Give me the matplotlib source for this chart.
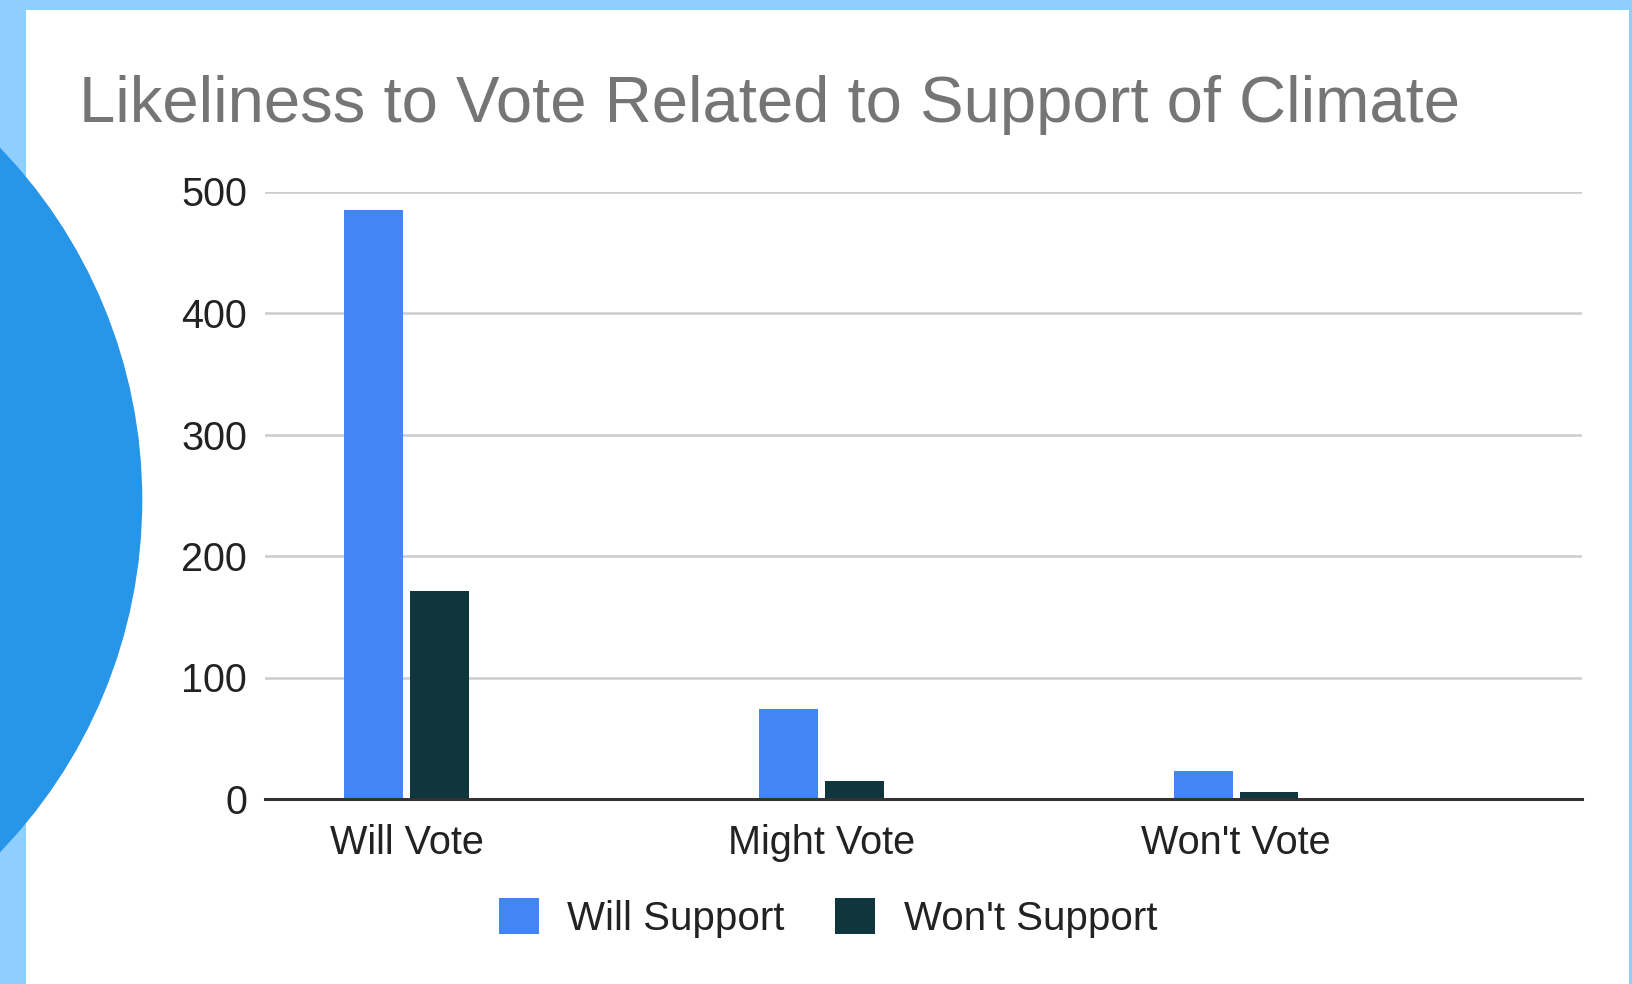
"""
Likeliness to vote vs. support of climate policy - grouped bar chart.
"""

import numpy as np
import matplotlib
matplotlib.use("Agg")
import matplotlib.pyplot as plt
from matplotlib.patches import Circle, Rectangle

# -----------------------------
# Data
# -----------------------------
categories = ["Will Vote", "Might Vote", "Won't Vote"]
will_support = [485, 74, 23]
wont_support = [171, 15, 6]
series_names = ["Will Support", "Won't Support"]
y_ticks = [0, 100, 200, 300, 400, 500]

title = "Likeliness to Vote Related to Support of Climate"

W, H, DPI = 1633, 984, 100
plt.rcParams["font.family"] = ["Liberation Sans", "DejaVu Sans"]

fig = plt.figure(figsize=(W / DPI, H / DPI), dpi=DPI)
fig.patch.set_facecolor("#8FCFFF")

# white card on top of the light-blue frame
fig.add_artist(Rectangle((26 / W, 0), (1629 - 26) / W, (H - 10) / H,
                         transform=fig.transFigure, facecolor="white",
                         edgecolor="none", zorder=0))

ax = fig.add_axes([265 / W, (H - 799) / H, 1317 / W, 607.5 / H])
ax.set_facecolor("none")

x = np.arange(len(categories))
bar_w = 0.142
offset = 0.0795
b1 = ax.bar(x - offset, will_support, width=bar_w, color="#4285F4",
            label=series_names[0], zorder=3)
b2 = ax.bar(x + offset, wont_support, width=bar_w, color="#0F353D",
            label=series_names[1], zorder=3)

ax.set_xlim(-0.341, 2.834)
ax.set_ylim(0, 500)
ax.set_yticks(y_ticks)
ax.set_xticks(x)
ax.set_xticklabels(categories)

for s in ["top", "right", "left"]:
    ax.spines[s].set_visible(False)
ax.spines["bottom"].set_color("#333333")
ax.spines["bottom"].set_linewidth(2.2)
ax.spines["bottom"].set_zorder(4)

ax.yaxis.grid(True, color="#CCCCCC", linewidth=1.8)
ax.set_axisbelow(True)
ax.tick_params(axis="both", length=0, labelsize=28.5, colors="#222222")
ax.tick_params(axis="y", pad=13)
ax.tick_params(axis="x", pad=18)

fig.text(79 / W, (H - 122) / H, title, fontsize=47, color="#757575",
         ha="left", va="baseline")

fig.legend(handles=[b1, b2], labels=series_names, loc="center",
           bbox_to_anchor=(828 / W, 66 / H), ncol=2, frameon=False,
           fontsize=29, handlelength=1.0, handleheight=1.0,
           handletextpad=0.7, columnspacing=1.25, labelcolor="#222222")

# decorative circle on the left edge
fig.add_artist(Circle((-365 / DPI, 484 / DPI), 507.3 / DPI,
                      transform=fig.dpi_scale_trans, facecolor="#2896E8",
                      edgecolor="none", zorder=10))

fig.savefig("out.png", dpi=DPI)
